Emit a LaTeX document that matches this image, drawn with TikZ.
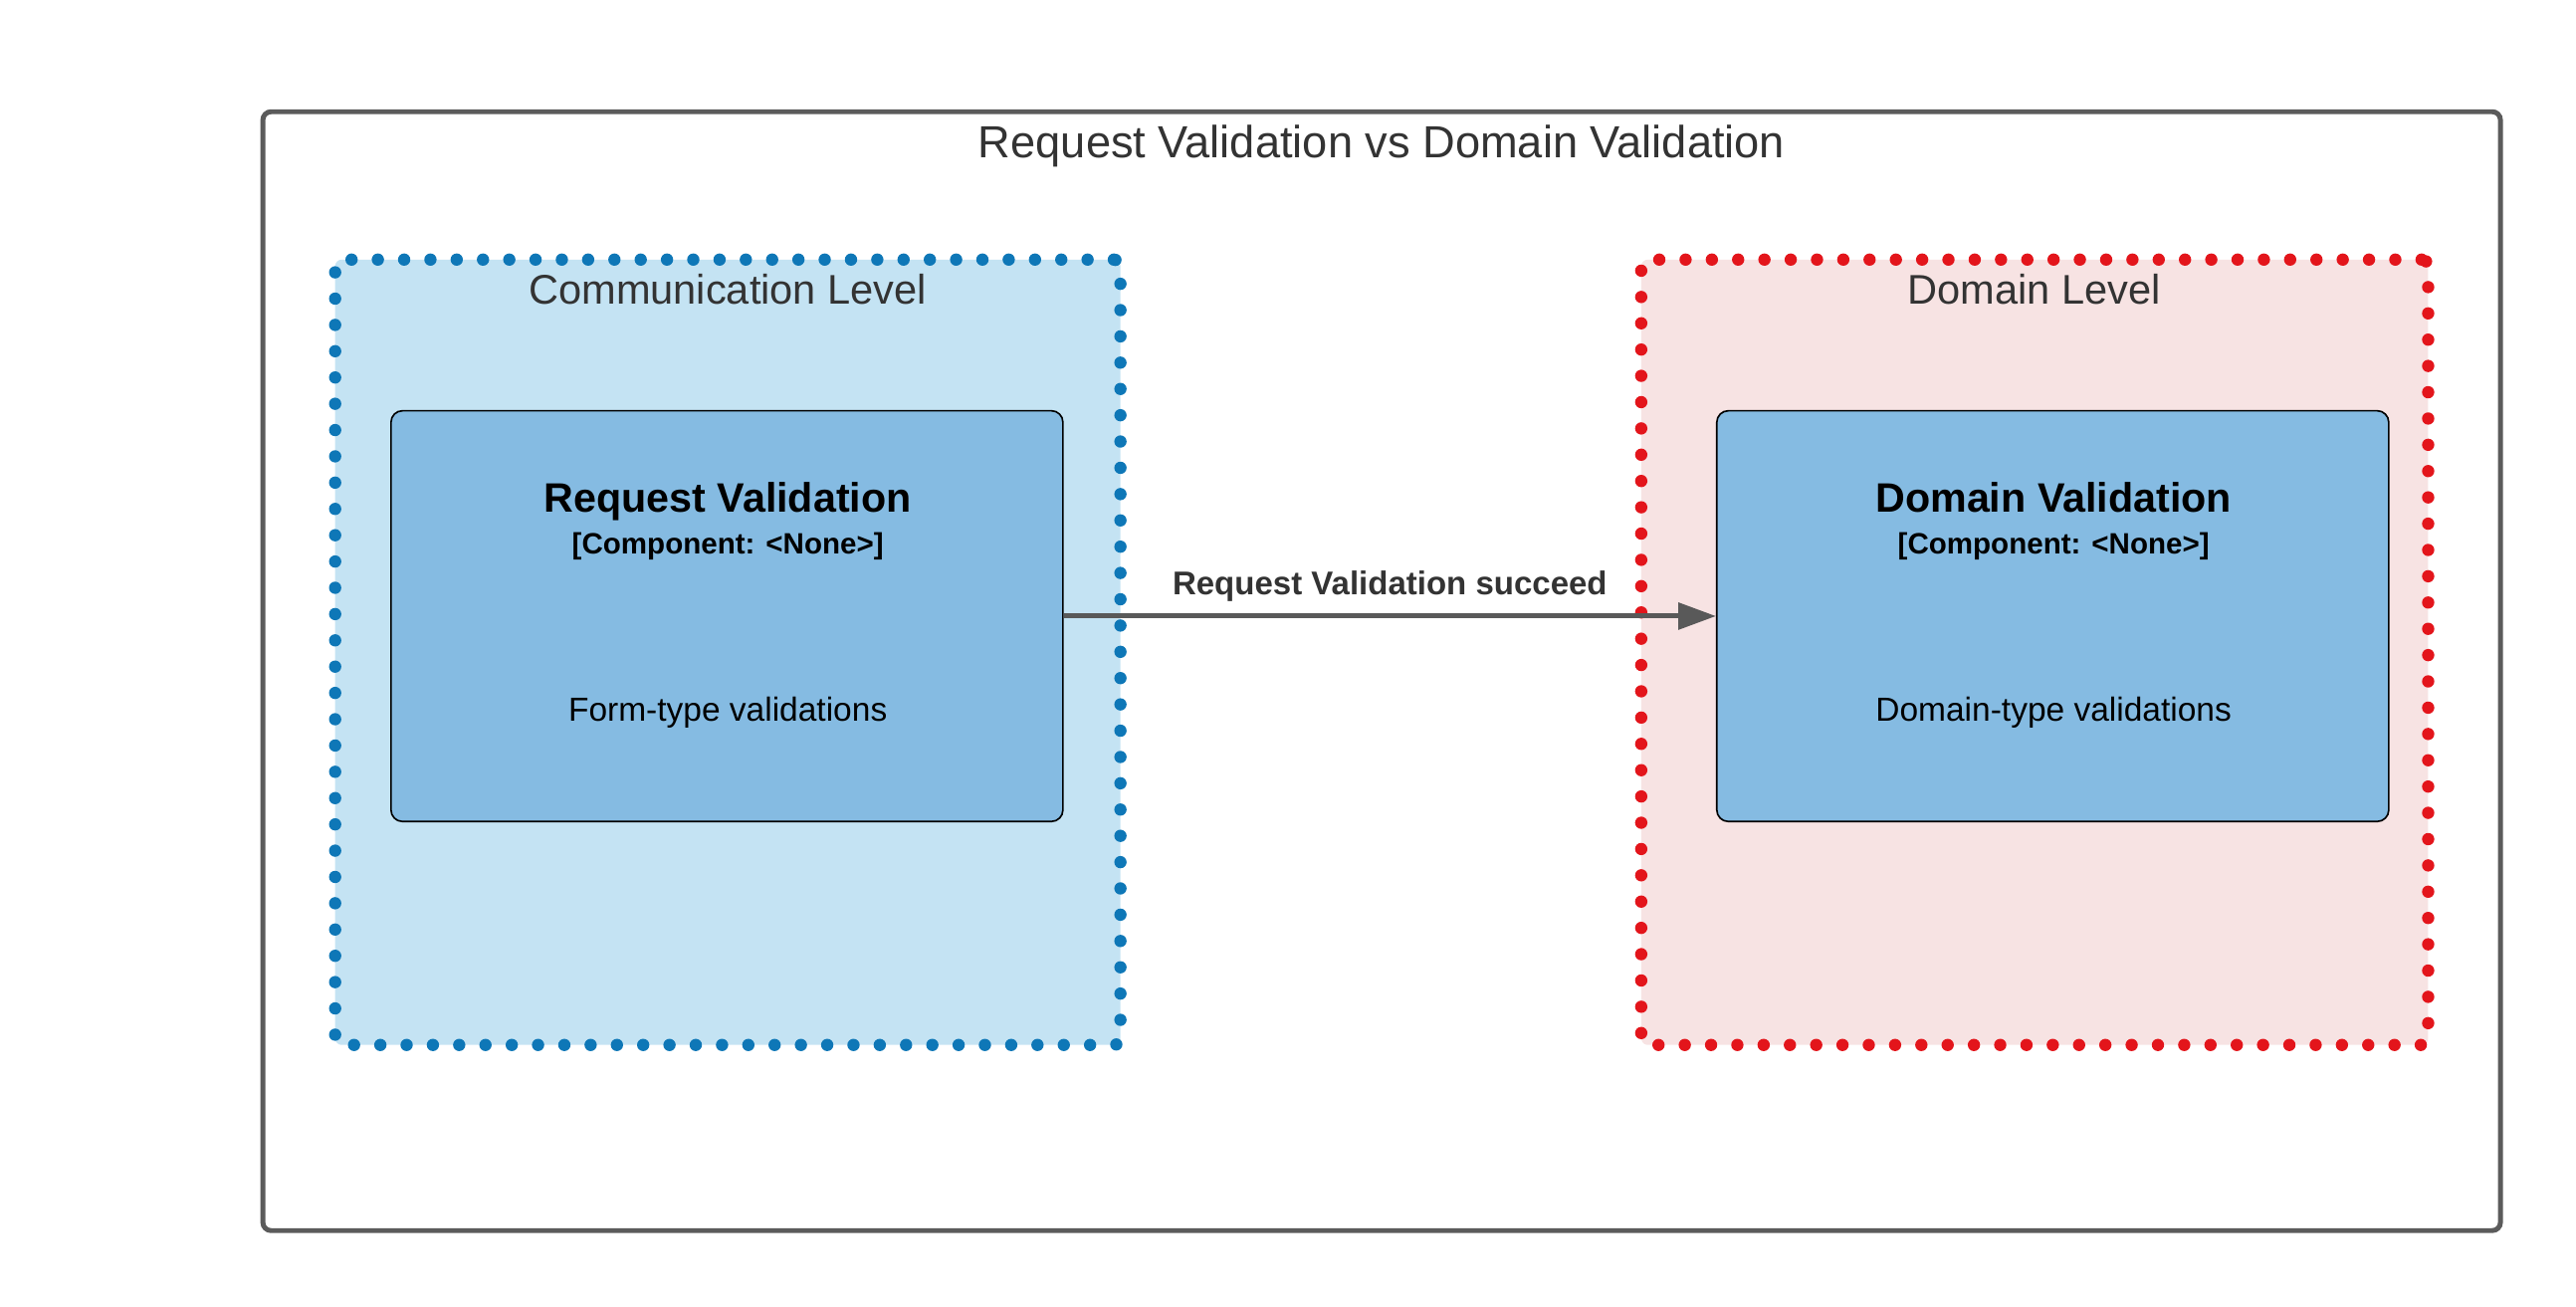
\documentclass[tikz,border=0pt]{standalone}
\usepackage{fontspec}
\setmainfont{Liberation Sans}
\usetikzlibrary{arrows.meta}
\definecolor{outergray}{HTML}{5B5B5B}
\definecolor{titlegray}{HTML}{333333}
\definecolor{bluefill}{HTML}{C4E3F3}
\definecolor{bluedot}{HTML}{0E77B7}
\definecolor{redfill}{HTML}{F7E3E3}
\definecolor{reddot}{HTML}{E3151B}
\definecolor{compfill}{HTML}{85BBE2}
\definecolor{arrowgray}{HTML}{595959}
\tikzset{
  outerbox/.style={draw=outergray, line width=3pt, rounded corners=5pt, rectangle, inner sep=0pt},
  levelbox/.style={rectangle, inner sep=0pt, line width=7.5pt, line cap=round, dash pattern=on 0pt off 16pt, rounded corners=4pt},
  compbox/.style={rectangle, draw=black, line width=1pt, fill=compfill, rounded corners=7pt, inner sep=0pt, minimum width=409pt, minimum height=250pt},
  txt/.style={inner sep=0pt, anchor=base},
  flow/.style={draw=arrowgray, line width=3pt, -{Triangle[length=23pt, width=16pt]}},
}
\begin{document}
\begin{tikzpicture}[x=1pt,y=-1pt]
\useasboundingbox (0,0) rectangle (1568,795.5);
% outer frame
\node[outerbox, minimum width=1362pt, minimum height=681pt] (outer) at (841,408.5) {};
\node[txt, text=titlegray, font=\fontsize{27.4}{32}\selectfont] (title) at (841,96) {Request Validation vs Domain Validation};
% level containers
\node[levelbox, fill=bluefill, draw=bluedot, minimum width=478pt, minimum height=478pt] (comm) at (443,397) {};
\node[txt, text=titlegray, font=\fontsize{25.2}{30}\selectfont] (commlabel) at (443,185) {Communication Level};
\node[levelbox, fill=redfill, draw=reddot, minimum width=479pt, minimum height=478pt] (dom) at (1238.5,397) {};
\node[txt, text=titlegray, font=\fontsize{25.2}{30}\selectfont] (domlabel) at (1238,185) {Domain Level};
% components
\node[compbox] (req) at (442.5,375) {};
\node[txt, font=\bfseries\fontsize{25}{30}\selectfont] (reqname) at (443,312) {Request Validation};
\node[txt, font=\bfseries\fontsize{17.9}{22}\selectfont] (reqtype) at (443,337) {[Component: <None>]};
\node[txt, font=\fontsize{20.3}{24}\selectfont] (reqdesc) at (443,439) {Form-type validations};
\node[compbox] (dv) at (1249.5,375) {};
\node[txt, font=\bfseries\fontsize{25}{30}\selectfont] (dvname) at (1250,312) {Domain Validation};
\node[txt, font=\bfseries\fontsize{17.9}{22}\selectfont] (dvtype) at (1250,337) {[Component: <None>]};
\node[txt, font=\fontsize{20.3}{24}\selectfont] (dvdesc) at (1250,439) {Domain-type validations};
% connector
\draw[flow] (req.east) -- (dv.west);
\node[txt, text=titlegray, font=\bfseries\fontsize{20}{24}\selectfont] (flowlabel) at (846,362) {Request Validation succeed};
\end{tikzpicture}
\end{document}
